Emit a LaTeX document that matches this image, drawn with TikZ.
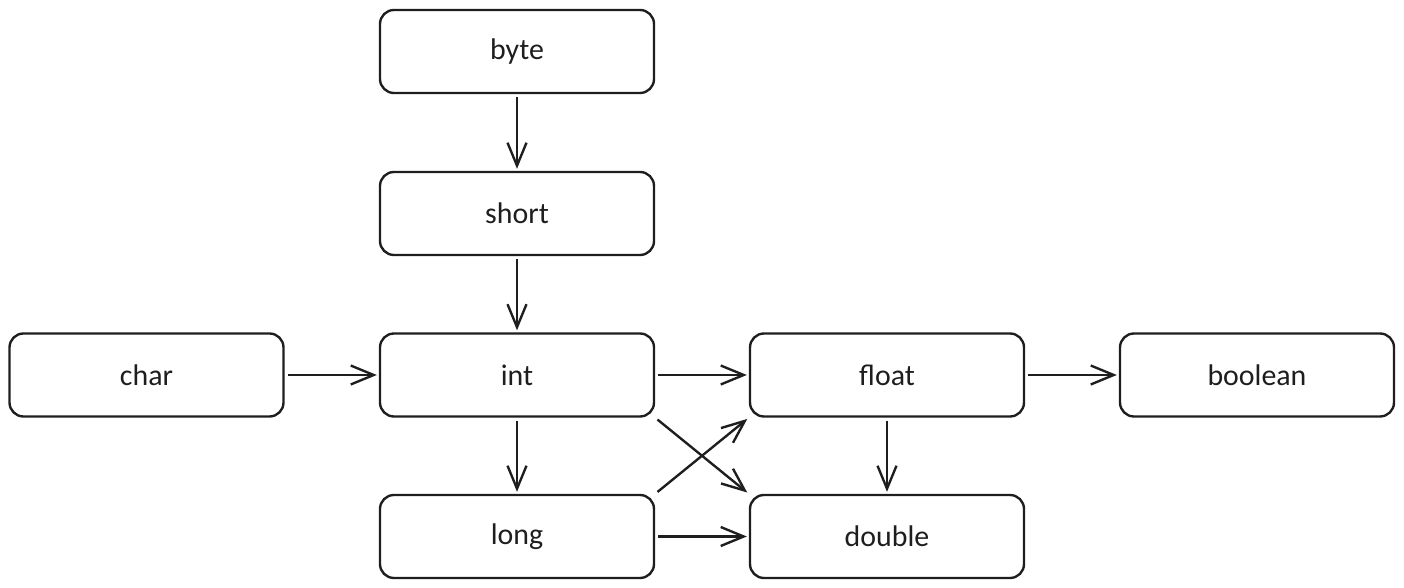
\documentclass[tikz,border=0pt]{standalone}
\usepackage{fontspec}
\setmainfont{Carlito}
\usetikzlibrary{arrows.meta}
\definecolor{ink}{HTML}{1E1E1E}
\tikzset{
	typebox/.style={draw=ink,text=ink,line width=1.35pt,rounded corners=0.28cm,minimum width=5.48cm,minimum height=1.66cm,font=\fontsize{17}{20}\selectfont},
	conv/.style={draw=ink,line width=1.35pt,-{Straight Barb[length=0.46cm,width=0.38cm,line width=1.35pt]},shorten <=0.06cm,shorten >=0.04cm}
}
\begin{document}
\begin{tikzpicture}
			\useasboundingbox (0,0) rectangle (28.08,-11.76);
			\node[typebox] (byte) at (10.34,-1.03) {byte};
			\node[typebox] (short) at (10.34,-4.27) {short};
			\node[typebox] (char) at (2.93,-7.5) {char};
			\node[typebox] (int) at (10.34,-7.5) {int};
			\node[typebox] (float) at (17.74,-7.5) {float};
			\node[typebox] (boolean) at (25.14,-7.5) {boolean};
			\node[typebox] (long) at (10.34,-10.73) {long};
			\node[typebox] (double) at (17.74,-10.73) {double};
			\draw[conv] (byte) -- (short);
			\draw[conv] (short) -- (int);
			\draw[conv] (char) -- (int);
			\draw[conv] (int) -- (float);
			\draw[conv] (float) -- (boolean);
			\draw[conv] (int) -- (long);
			\draw[conv] (float) -- (double);
			\draw[conv] (long) -- (double);
			\draw[conv] (int.south east) -- (double.north west);
			\draw[conv] (long.north east) -- (float.south west);
		\end{tikzpicture}
\end{document}
